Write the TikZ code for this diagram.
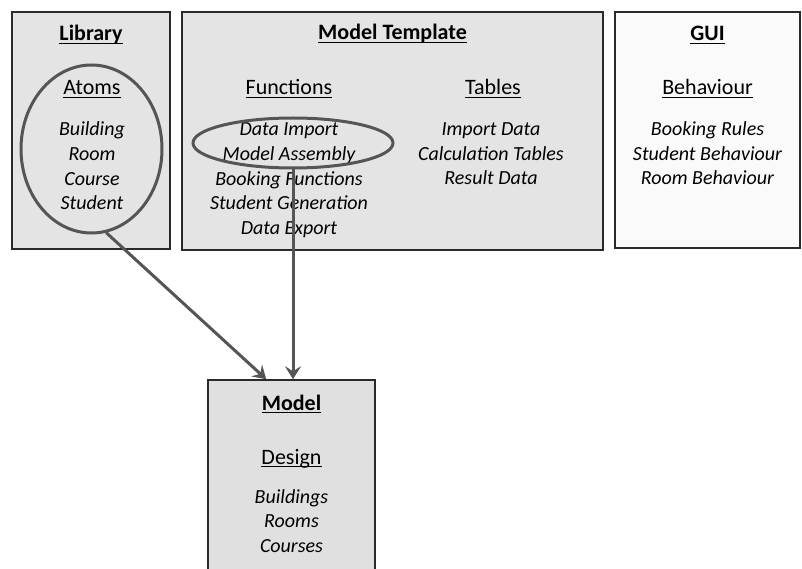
\documentclass[tikz,border=0pt]{standalone}
\usepackage{fontspec}
\setmainfont{Carlito}
\usetikzlibrary{shapes.geometric,arrows.meta,calc}
\definecolor{boxgray}{HTML}{E4E4E4}
\definecolor{guiwhite}{HTML}{FAFAFA}
\definecolor{modelgray}{HTML}{E0E0E0}
\definecolor{edge}{HTML}{2A2A2A}
\definecolor{ringgray}{HTML}{555555}
\newcommand{\myul}[1]{\setbox0=\hbox{#1}\rlap{\rule[-3pt]{\wd0}{1.3pt}}\box0}
\begin{document}
\begin{tikzpicture}[x=1pt,y=-1pt,
  box/.style={draw=edge, line width=1.5pt, rectangle, inner sep=0pt},
  head/.style={anchor=base, inner sep=0pt, font=\fontsize{22}{26}\selectfont},
  items/.style={anchor=base, inner sep=0pt, align=center, font=\fontsize{20}{24.5}\selectfont\itshape},
  ring/.style={ellipse, draw=ringgray, line width=3pt, inner sep=0pt},
  conn/.style={draw=ringgray, line width=3pt, -{Stealth[length=13pt,width=16pt,inset=5pt]}}]
\useasboundingbox (0,0) rectangle (802,569);
\fill[white] (0,0) rectangle (802,569);
% boxes
\node[box, fill=boxgray, minimum width=158pt, minimum height=237pt] (lib) at (91,130.5) {};
\node[box, fill=boxgray, minimum width=421pt, minimum height=238pt] (tmpl) at (392.5,131) {};
\node[box, fill=guiwhite, minimum width=185pt, minimum height=236pt] (gui) at (707.5,130) {};
\node[box, fill=modelgray, minimum width=167pt, minimum height=220pt] (model) at (291.5,490) {};
% library (multi-line nodes: base = baseline of last line)
\node[head] (libt) at (91,41) {\myul{\textbf{Library}}};
\node[head] (atoms) at (92,95) {\myul{Atoms}};
\node[items] (libi) at (92,209.5) {Building\\Room\\Course\\Student};
% template
\node[head] (tmplt) at (392.5,40) {\myul{\textbf{Model Template}}};
\node[head] (func) at (289,95) {\myul{Functions}};
\node[head] (tabs) at (493,95) {\myul{Tables}};
\node[items] (funci) at (289,234) {Data Import\\Model Assembly\\Booking Functions\\Student Generation\\Data Export};
\node[items] (tabsi) at (491,185) {Import Data\\Calculation Tables\\Result Data};
% gui
\node[head] (guit) at (707.5,41) {\myul{\textbf{GUI}}};
\node[head] (behav) at (707.5,95) {\myul{Behaviour}};
\node[items] (behavi) at (707.5,185) {Booking Rules\\Student Behaviour\\Room Behaviour};
% model
\node[head] (modelt) at (291.5,410) {\myul{\textbf{Model}}};
\node[head] (design) at (291.5,464) {\myul{Design}};
\node[items] (designi) at (291.5,552) {Buildings\\Rooms\\Courses};
% ellipses
\node[ring, minimum width=141pt, minimum height=168pt] (libell) at (91.5,149) {};
\node[ring, minimum width=200pt, minimum height=50pt] (fnell) at (293,143) {};
% connectors
\coordinate (tip1) at ($(model.north west)!0.35!(model.north east)$);
\draw[conn] (libell.-80) -- (tip1);
\draw[conn] (fnell.south) -- (fnell.south |- model.north);
\end{tikzpicture}
\end{document}
